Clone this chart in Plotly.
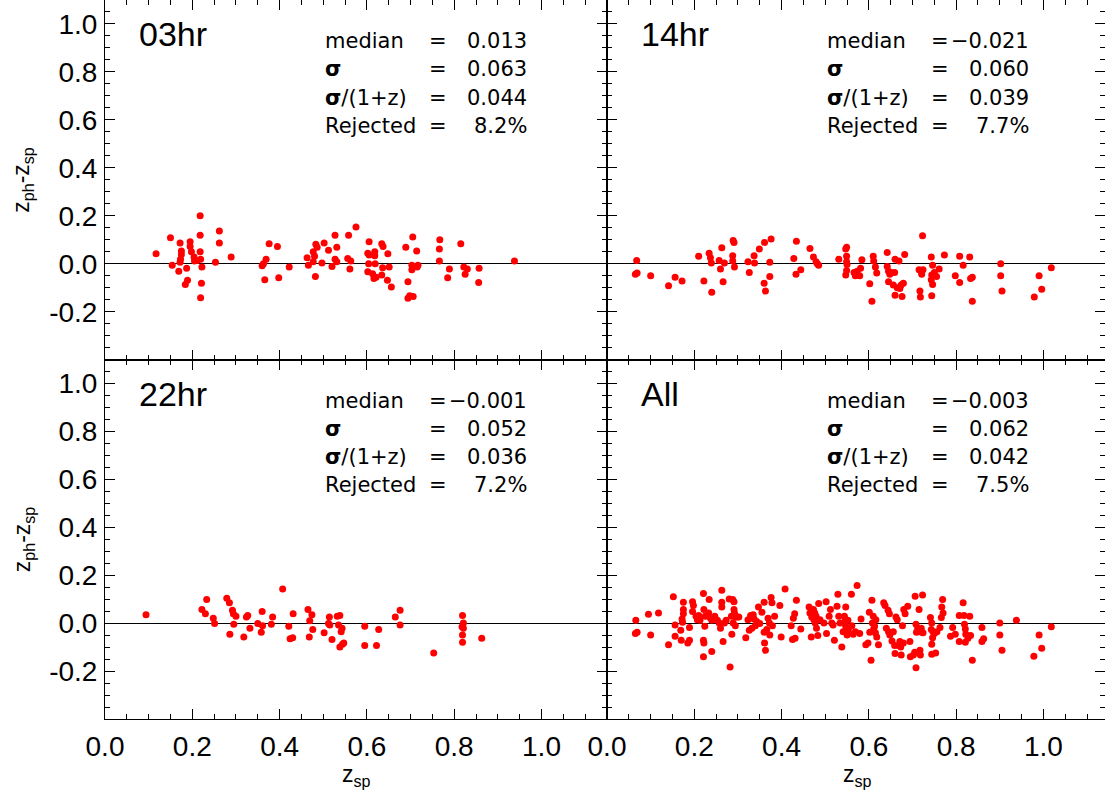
import plotly.graph_objects as go
from plotly.subplots import make_subplots

# ---------------- data (z_sp, z_ph - z_sp) ----------------
hr03_x = [0.117,0.150,0.154,0.169,0.172,0.175,0.175,0.173,0.172,0.184,0.189,0.187,0.195,0.195,0.198,0.204,0.205,0.211,
          0.218,0.218,0.218,0.219,0.222,0.221,0.219,0.253,0.262,0.262,0.289,0.360,0.363,0.369,0.366,0.376,0.395,0.398,
          0.422,0.463,0.466,0.477,0.480,0.477,0.483,0.486,0.482,0.497,0.502,0.512,0.520,0.527,0.531,0.527,0.531,0.558,
          0.556,0.563,0.561,0.575,0.605,0.602,0.605,0.604,0.602,0.613,0.618,0.618,0.619,0.616,0.621,0.634,0.637,0.636,
          0.634,0.648,0.651,0.647,0.656,0.689,0.694,0.694,0.698,0.706,0.705,0.714,0.703,0.703,0.708,0.715,0.717,0.767,
          0.766,0.766,0.789,0.785,0.815,0.822,0.825,0.830,0.857,0.856,0.938]
hr03_y = [0.042,0.108,-0.006,-0.031,0.086,0.053,0.039,0.019,0.006,-0.086,-0.069,-0.019,0.092,0.072,0.050,0.028,0.011,0.014,
          0.200,0.119,0.050,0.019,-0.014,-0.081,-0.142,0.006,0.136,0.086,0.028,-0.008,0.000,0.019,-0.067,0.083,0.072,-0.058,
          -0.014,0.025,-0.006,0.050,0.031,0.008,0.081,0.069,-0.053,0.003,0.086,0.056,-0.011,0.119,0.069,0.019,0.008,0.119,
          0.022,0.011,-0.022,0.153,0.092,0.044,0.036,0.000,-0.033,-0.042,0.050,0.033,0.000,-0.061,-0.056,0.083,0.072,-0.017,
          -0.047,0.042,-0.014,-0.069,-0.097,0.069,-0.075,-0.144,-0.133,-0.136,0.111,0.053,-0.006,-0.025,-0.011,-0.014,-0.006,0.100,
          0.061,0.011,-0.022,-0.058,0.083,-0.014,-0.044,-0.022,-0.019,-0.078,0.011]

hr14_x = [0.068,0.065,0.069,0.100,0.141,0.156,0.172,0.210,0.222,0.234,0.237,0.239,0.240,0.257,0.260,0.263,0.266,0.269,
          0.288,0.288,0.289,0.291,0.292,0.323,0.326,0.337,0.338,0.349,0.361,0.360,0.363,0.373,0.373,0.376,0.428,0.433,
          0.434,0.444,0.465,0.473,0.479,0.482,0.485,0.531,0.547,0.549,0.549,0.549,0.550,0.549,0.547,0.566,0.569,0.573,
          0.581,0.579,0.584,0.602,0.607,0.610,0.611,0.615,0.618,0.642,0.642,0.645,0.648,0.645,0.651,0.659,0.660,0.669,
          0.656,0.660,0.665,0.671,0.674,0.676,0.679,0.682,0.723,0.715,0.720,0.724,0.721,0.717,0.718,0.743,0.746,0.744,
          0.743,0.746,0.750,0.755,0.761,0.744,0.773,0.798,0.808,0.816,0.808,0.831,0.833,0.837,0.837,0.902,0.902,0.905,
          0.979,0.990,0.996,1.018]
hr14_y = [0.014,-0.044,-0.039,-0.050,-0.092,-0.056,-0.072,0.031,-0.072,0.044,0.025,0.003,-0.119,0.014,-0.022,0.067,-0.075,0.003,
          0.033,0.011,0.097,0.089,-0.014,0.008,-0.036,0.033,0.003,0.061,0.089,-0.081,-0.114,-0.053,0.006,0.103,0.022,-0.044,
          0.094,-0.025,0.064,0.028,0.008,0.000,-0.006,0.019,0.061,0.069,0.031,0.008,-0.003,-0.028,-0.047,-0.036,-0.050,-0.031,
          -0.019,-0.050,0.017,-0.083,-0.156,0.031,0.011,-0.014,-0.039,0.047,-0.011,-0.031,-0.044,-0.075,-0.036,-0.036,0.019,0.011,
          -0.089,-0.131,-0.100,-0.103,-0.089,-0.136,-0.081,0.039,0.117,-0.025,-0.031,-0.025,-0.044,-0.114,-0.139,0.028,-0.006,-0.047,
          -0.067,-0.086,-0.036,-0.053,-0.022,-0.133,0.036,-0.050,0.031,-0.006,-0.078,0.028,-0.061,-0.056,-0.156,0.000,-0.050,-0.114,
          -0.139,-0.050,-0.106,-0.017]

hr22_x = [0.094,0.222,0.230,0.233,0.248,0.251,0.279,0.285,0.286,0.292,0.294,0.295,0.300,0.318,0.324,0.327,0.332,0.350,
          0.360,0.361,0.358,0.381,0.384,0.407,0.421,0.424,0.430,0.431,0.465,0.474,0.469,0.476,0.468,0.502,0.512,0.514,
          0.515,0.520,0.532,0.538,0.535,0.543,0.541,0.544,0.538,0.547,0.595,0.595,0.622,0.627,0.665,0.676,0.676,0.753,
          0.819,0.821,0.818,0.821,0.819,0.819,0.863]
hr22_y = [0.035,0.057,0.040,0.099,0.021,-0.001,0.104,0.085,-0.046,0.054,0.040,-0.004,0.029,-0.057,0.026,0.032,-0.021,-0.001,
          0.049,-0.010,-0.038,-0.004,0.026,0.143,-0.013,-0.065,-0.060,0.040,0.057,0.035,0.010,-0.026,-0.057,-0.040,-0.001,0.026,
          -0.007,-0.068,0.029,0.032,-0.007,-0.021,-0.035,-0.088,-0.099,-0.082,-0.013,-0.093,-0.093,-0.026,0.026,0.054,-0.007,-0.124,
          0.032,0.001,-0.015,-0.021,-0.049,-0.079,-0.063]

all_x = [0.066,0.065,0.069,0.095,0.100,0.118,0.141,0.152,0.156,0.156,0.169,0.170,0.175,0.175,0.175,0.172,0.173,0.185,
         0.189,0.189,0.196,0.198,0.196,0.204,0.207,0.210,0.213,0.221,0.222,0.225,0.224,0.221,0.222,0.221,0.234,0.233,
         0.236,0.240,0.240,0.247,0.253,0.257,0.260,0.263,0.263,0.263,0.266,0.269,0.273,0.280,0.282,0.285,0.286,0.288,
         0.291,0.291,0.292,0.294,0.294,0.289,0.298,0.302,0.318,0.323,0.326,0.329,0.332,0.335,0.337,0.340,0.343,0.347,
         0.350,0.355,0.360,0.360,0.361,0.363,0.366,0.369,0.372,0.373,0.376,0.378,0.379,0.384,0.396,0.399,0.408,0.422,
         0.425,0.427,0.430,0.431,0.434,0.444,0.463,0.465,0.468,0.469,0.473,0.474,0.476,0.477,0.479,0.480,0.483,0.485,
         0.488,0.497,0.502,0.503,0.509,0.512,0.515,0.518,0.521,0.527,0.529,0.531,0.534,0.538,0.541,0.544,0.547,0.546,
         0.547,0.549,0.550,0.552,0.553,0.560,0.561,0.564,0.569,0.573,0.579,0.582,0.593,0.598,0.601,0.602,0.605,0.607,
         0.608,0.610,0.611,0.613,0.615,0.616,0.618,0.622,0.634,0.637,0.640,0.644,0.645,0.647,0.648,0.653,0.656,0.659,
         0.660,0.662,0.665,0.668,0.671,0.673,0.674,0.677,0.679,0.680,0.683,0.689,0.694,0.695,0.702,0.705,0.706,0.708,
         0.708,0.709,0.712,0.715,0.717,0.718,0.720,0.721,0.723,0.724,0.741,0.743,0.744,0.746,0.744,0.744,0.747,0.750,
         0.753,0.756,0.763,0.766,0.767,0.769,0.770,0.787,0.792,0.798,0.807,0.807,0.816,0.818,0.819,0.821,0.822,0.827,
         0.821,0.831,0.833,0.837,0.859,0.859,0.863,0.900,0.900,0.905,0.938,0.978,0.990,0.996,1.018]
all_y = [0.013,-0.043,-0.038,0.038,-0.049,0.043,-0.090,0.110,-0.007,-0.054,-0.029,-0.071,0.088,0.057,0.040,0.018,0.004,-0.082,
         -0.071,-0.018,0.090,0.074,0.049,0.029,0.015,0.032,0.013,0.124,0.057,0.029,-0.013,-0.071,-0.082,-0.140,0.099,0.043,
         0.024,0.013,-0.118,0.029,0.013,0.001,-0.021,0.138,0.088,0.068,-0.076,0.001,0.013,0.101,-0.182,0.029,-0.046,0.099,
         0.090,0.057,0.043,0.026,-0.010,0.001,0.026,0.026,-0.060,0.015,-0.029,0.032,-0.021,0.035,0.018,-0.010,0.007,0.068,
         -0.001,0.046,0.088,-0.038,-0.082,-0.113,-0.026,0.021,0.001,-0.049,0.107,0.085,-0.010,0.029,0.074,-0.057,0.143,-0.010,
         -0.068,0.021,0.040,-0.063,0.096,-0.024,0.068,0.043,-0.057,0.026,0.057,0.015,0.043,0.001,0.029,-0.021,-0.051,0.082,
         0.015,0.001,0.090,-0.043,0.029,0.057,0.001,-0.007,-0.071,0.071,0.121,0.029,0.001,-0.099,-0.035,0.029,0.068,0.015,
         -0.013,-0.038,-0.049,0.013,-0.026,0.121,-0.010,-0.046,-0.035,0.157,-0.043,0.018,-0.090,-0.082,0.046,-0.038,-0.154,0.096,
         0.001,0.029,-0.024,-0.013,-0.040,0.015,-0.057,-0.090,0.085,0.074,-0.021,0.054,-0.035,0.040,-0.049,-0.074,-0.035,-0.093,
         -0.126,0.026,0.015,-0.093,-0.076,-0.099,-0.132,-0.010,-0.082,0.057,0.040,0.071,-0.076,-0.140,-0.132,-0.121,0.113,-0.185,
         -0.004,-0.038,-0.021,0.057,-0.113,-0.132,-0.021,-0.038,0.118,-0.040,0.024,-0.026,0.001,-0.060,-0.088,-0.129,-0.035,-0.043,
         -0.124,-0.035,-0.018,0.024,0.068,0.099,0.043,-0.054,-0.018,-0.046,-0.076,0.032,0.085,0.032,-0.004,-0.024,-0.046,-0.063,
         -0.079,0.029,-0.051,-0.154,-0.018,-0.076,-0.065,0.001,-0.049,-0.113,0.013,-0.138,-0.049,-0.104,-0.015]

panel_names = ["03hr", "14hr", "22hr", "All"]
stat_labels = ["median", "<b>σ</b>", "<b>σ</b>/(1+z)", "Rejected"]
stat_values = [["0.013", "0.063", "0.044", "8.2%"],
               ["−0.021", "0.060", "0.039", "7.7%"],
               ["−0.001", "0.052", "0.036", "7.2%"],
               ["−0.003", "0.062", "0.042", "7.5%"]]
xtick_vals = [0.0, 0.2, 0.4, 0.6, 0.8, 1.0]
xtick_text = ["0.0", "0.2", "0.4", "0.6", "0.8", "1.0"]
ytick_vals = [-0.2, 0.0, 0.2, 0.4, 0.6, 0.8, 1.0]
ytick_text = ["-0.2", "0.0", "0.2", "0.4", "0.6", "0.8", "1.0"]

series = [(hr03_x, hr03_y), (hr14_x, hr14_y), (hr22_x, hr22_y), (all_x, all_y)]

# ---------------- figure ----------------
fig = make_subplots(rows=2, cols=2, horizontal_spacing=0, vertical_spacing=0,
                    column_widths=[502, 498])

TICKFONT = dict(family="Liberation Sans, Arial, sans-serif", size=28, color="black")
STATFONT = dict(family="DejaVu Sans, sans-serif", size=21, color="black")

pos = [(1, 1), (1, 2), (2, 1), (2, 2)]
for i, ((r, c), (xs, ys)) in enumerate(zip(pos, series)):
    fig.add_trace(go.Scatter(x=xs, y=ys, mode="markers",
                             marker=dict(color="#ff0000", size=7, line=dict(width=0)),
                             showlegend=False, hoverinfo="skip"), row=r, col=c)
    xr = [0, 1.15] if c == 1 else [0, 1.141]
    fig.update_xaxes(range=xr, showgrid=False, zeroline=False, showline=True, automargin=False,
                     linecolor="black", linewidth=1, mirror="ticks",
                     ticks="inside", ticklen=10, tickwidth=1, tickcolor="black",
                     tickmode="array", tickvals=xtick_vals, ticktext=xtick_text,
                     showticklabels=(r == 2), tickfont=TICKFONT, ticklabelstandoff=2,
                     minor=dict(ticks="inside", ticklen=5, tickwidth=1, tickcolor="black",
                                tickmode="linear", tick0=0, dtick=0.05),
                     row=r, col=c)
    fig.update_yaxes(range=[-0.399, 1.099], showgrid=False, zeroline=True, automargin=False,
                     zerolinecolor="black", zerolinewidth=1, showline=True,
                     linecolor="black", linewidth=1, mirror="ticks",
                     ticks="inside", ticklen=10, tickwidth=1, tickcolor="black",
                     tickmode="array", tickvals=ytick_vals, ticktext=ytick_text,
                     showticklabels=(c == 1), tickfont=TICKFONT, ticklabelstandoff=1,
                     minor=dict(ticks="inside", ticklen=5, tickwidth=1, tickcolor="black",
                                tickmode="linear", tick0=0, dtick=0.05),
                     row=r, col=c)

    k = "" if i == 0 else str(i + 1)
    xref, yref = "x" + k, "y" + k
    fig.add_annotation(x=0.073, y=0.956, xref=xref, yref=yref, text=panel_names[i],
                       showarrow=False, xanchor="left", yanchor="middle",
                       font=dict(family="Liberation Sans, Arial, sans-serif", size=34, color="black"))
    line_y = [0.927, 0.810, 0.692, 0.575]
    for j in range(4):
        fig.add_annotation(x=0.50, y=line_y[j], xref=xref, yref=yref, text=stat_labels[j],
                           showarrow=False, xanchor="left", yanchor="middle", font=STATFONT)
        fig.add_annotation(x=0.762, y=line_y[j], xref=xref, yref=yref, text="=",
                           showarrow=False, xanchor="center", yanchor="middle", font=STATFONT)
        fig.add_annotation(x=0.972, y=line_y[j], xref=xref, yref=yref, text=stat_values[i][j],
                           showarrow=False, xanchor="right", yanchor="middle", font=STATFONT)

AXFONT = dict(family="Liberation Sans, Arial, sans-serif", size=23, color="black")
for yc in [0.75, 0.25]:
    fig.add_annotation(x=-0.082, y=yc, xref="paper", yref="paper",
                       text="z<sub>ph</sub>-z<sub>sp</sub>", textangle=-90,
                       showarrow=False, xanchor="center", yanchor="middle", font=AXFONT)
for xc in [0.251, 0.752]:
    fig.add_annotation(x=xc, y=-0.079, xref="paper", yref="paper",
                       text="z<sub>sp</sub>", showarrow=False,
                       xanchor="center", yanchor="middle", font=AXFONT)

fig.update_layout(width=1105, height=794, plot_bgcolor="white", paper_bgcolor="white",
                  margin=dict(l=105, r=0, t=0, b=75, autoexpand=False))

fig.write_html("out.html", config={"displayModeBar": False},
               post_script="document.body.style.margin='0';document.body.style.overflow='hidden';")
